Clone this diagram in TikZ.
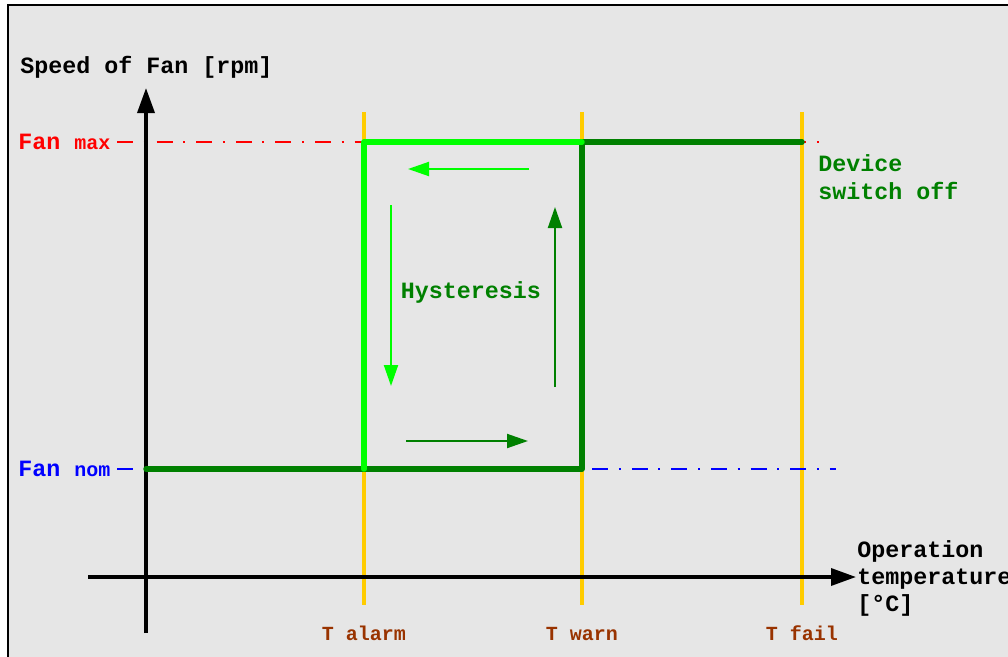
\documentclass[tikz,border=0pt]{standalone}
\usepackage{fontspec}
\setmainfont{Liberation Mono}
\usetikzlibrary{arrows.meta}
\definecolor{bggray}{HTML}{E6E6E6}
\definecolor{darkgreen}{HTML}{008000}
\definecolor{lightgreen}{HTML}{00FF00}
\definecolor{tempor}{HTML}{FFCC00}
\definecolor{tbrown}{HTML}{993300}
\tikzset{
  bigtext/.style={font=\bfseries\fontsize{17.5}{21}\selectfont, inner sep=0pt},
  smalltext/.style={font=\bfseries\fontsize{15}{18}\selectfont, inner sep=0pt},
  axisline/.style={line width=2.6pt, black, -{Triangle[length=18.75pt,width=12.75pt]}},
  templine/.style={line width=2.6pt, tempor},
  limitline/.style={line width=1.5pt, dash pattern=on 12pt off 8pt on 1.5pt off 8.2pt},
  curveline/.style={line width=4.1pt, line cap=round, line join=round},
  hystarrow/.style={line width=1.5pt, -{Triangle[length=15.75pt,width=10.5pt]}},
}
\begin{document}
\begin{tikzpicture}[x=0.75pt,y=-0.75pt]
\useasboundingbox (0,0) rectangle (1008,657);
% background frame
\fill[bggray] (8,5) rectangle (1012,662);
\draw[line width=1.5pt] (8,662) -- (8,5) -- (1012,5);

% key coordinates
\coordinate (ytail) at (146,633);
\coordinate (ytip) at (146,88);
\coordinate (xtail) at (88,577);
\coordinate (xtip) at (856,577);
\coordinate (maxL) at (117,142);
\coordinate (maxR) at (820,142);
\coordinate (nomL) at (117,469);
\coordinate (nomR) at (836,469);
\coordinate (alarmT) at (364,112);
\coordinate (alarmB) at (364,605);
\coordinate (warnT) at (582,112);
\coordinate (warnB) at (582,605);
\coordinate (failT) at (802,112);
\coordinate (failB) at (802,605);
\coordinate (n0) at (146,469);
\coordinate (nA) at (364,469);
\coordinate (nW) at (582,469);
\coordinate (mA) at (364,142);
\coordinate (mW) at (582,142);
\coordinate (mF) at (802,142);
\coordinate (a1s) at (529,169);
\coordinate (a1e) at (408,169);
\coordinate (a2s) at (391,205);
\coordinate (a2e) at (391,386);
\coordinate (a3s) at (555,387);
\coordinate (a3e) at (555,207);
\coordinate (a4s) at (406,441);
\coordinate (a4e) at (528,441);

% temperature thresholds
\draw[templine] (alarmT) -- (alarmB);
\draw[templine] (warnT) -- (warnB);
\draw[templine] (failT) -- (failB);

% fan speed limits
\draw[limitline, red] (maxL) -- (maxR);
\draw[limitline, blue] (nomL) -- (nomR);

% axes
\draw[axisline] (ytail) -- (ytip);
\draw[axisline] (xtail) -- (xtip);

% fan curve
\draw[curveline, darkgreen] (n0) -- (nW) -- (mW) -- (mF);
\draw[curveline, lightgreen] (nA) -- (mA) -- (mW);

% hysteresis arrows
\draw[hystarrow, lightgreen] (a1s) -- (a1e);
\draw[hystarrow, lightgreen] (a2s) -- (a2e);
\draw[hystarrow, darkgreen] (a3s) -- (a3e);
\draw[hystarrow, darkgreen] (a4s) -- (a4e);

% labels
\node[bigtext, anchor=west] (ylabel) at (20,67) {Speed of Fan [rpm]};
\node[bigtext, anchor=base west, red] (fanmax) at (18,149) {Fan {\fontsize{15}{18}\selectfont max}};
\node[bigtext, anchor=base west, blue] (fannom) at (18,476) {Fan {\fontsize{15}{18}\selectfont nom}};
\node[bigtext, darkgreen] (hyst) at (471,292) {Hysteresis};
\node[bigtext, darkgreen, anchor=west, align=left] (devoff) at (818,177) {Device\\switch off};
\node[bigtext, anchor=west, align=left, font=\bfseries\fontsize{17.5}{20.25}\selectfont] (xlabel) at (857,578) {Operation\\temperature\\{}[°C]};
\node[smalltext, tbrown, anchor=base] (talarm) at (364,640) {T alarm};
\node[smalltext, tbrown, anchor=base] (twarn) at (582,640) {T warn};
\node[smalltext, tbrown, anchor=base] (tfail) at (802,640) {T fail};
\end{tikzpicture}
\end{document}
